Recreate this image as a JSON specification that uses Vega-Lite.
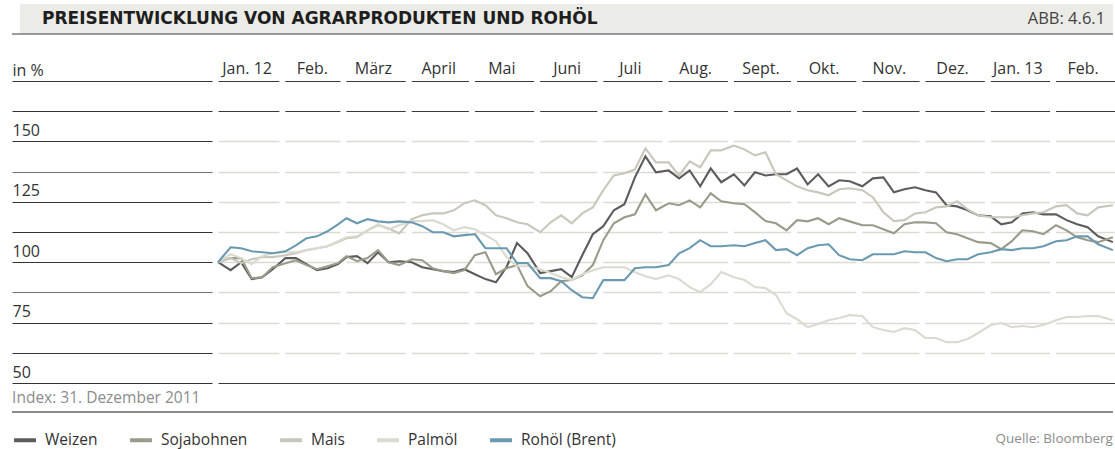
{
  "$schema": "https://vega.github.io/schema/vega-lite/v6.json",
  "width": 897,
  "height": 302,
  "autosize": "none",
  "padding": {"left": 218, "top": 81, "right": 0, "bottom": 66},
  "background": "white",
  "config": {"view": {"stroke": null}, "font": "Open Sans"},
  "datasets": {
    "months": [
      {"start": "2012-01-01", "label": "Jan. 12"},
      {"start": "2012-02-01", "label": "Feb."},
      {"start": "2012-03-01", "label": "März"},
      {"start": "2012-04-01", "label": "April"},
      {"start": "2012-05-01", "label": "Mai"},
      {"start": "2012-06-01", "label": "Juni"},
      {"start": "2012-07-01", "label": "Juli"},
      {"start": "2012-08-01", "label": "Aug."},
      {"start": "2012-09-01", "label": "Sept."},
      {"start": "2012-10-01", "label": "Okt."},
      {"start": "2012-11-01", "label": "Nov."},
      {"start": "2012-12-01", "label": "Dez."},
      {"start": "2013-01-01", "label": "Jan. 13"},
      {"start": "2013-02-01", "label": "Feb."}
    ],
    "prices": [
      {"Datum": "2011-12-31", "Weizen": 100, "Sojabohnen": 100, "Mais": 100, "Palmöl": 100, "Rohöl (Brent)": 100},
      {"Datum": "2012-01-06", "Weizen": 96.7, "Sojabohnen": 101.7, "Mais": 101.7, "Palmöl": 103.3, "Rohöl (Brent)": 106.2},
      {"Datum": "2012-01-11", "Weizen": 100.0, "Sojabohnen": 101.7, "Mais": 99.6, "Palmöl": 101.7, "Rohöl (Brent)": 105.8},
      {"Datum": "2012-01-16", "Weizen": 93.0, "Sojabohnen": 93.4, "Mais": 101.2, "Palmöl": 99.2, "Rohöl (Brent)": 104.5},
      {"Datum": "2012-01-21", "Weizen": 93.8, "Sojabohnen": 93.8, "Mais": 102.1, "Palmöl": 102.5, "Rohöl (Brent)": 104.1},
      {"Datum": "2012-01-26", "Weizen": 97.1, "Sojabohnen": 97.9, "Mais": 102.1, "Palmöl": 103.7, "Rohöl (Brent)": 103.7},
      {"Datum": "2012-02-01", "Weizen": 101.7, "Sojabohnen": 99.6, "Mais": 102.9, "Palmöl": 104.1, "Rohöl (Brent)": 104.5},
      {"Datum": "2012-02-06", "Weizen": 101.7, "Sojabohnen": 100.8, "Mais": 103.7, "Palmöl": 104.1, "Rohöl (Brent)": 107.0},
      {"Datum": "2012-02-11", "Weizen": 99.2, "Sojabohnen": 98.8, "Mais": 105.0, "Palmöl": 105.0, "Rohöl (Brent)": 109.9},
      {"Datum": "2012-02-16", "Weizen": 96.7, "Sojabohnen": 97.1, "Mais": 105.8, "Palmöl": 105.8, "Rohöl (Brent)": 110.7},
      {"Datum": "2012-02-21", "Weizen": 97.5, "Sojabohnen": 98.3, "Mais": 106.6, "Palmöl": 106.6, "Rohöl (Brent)": 112.8},
      {"Datum": "2012-02-26", "Weizen": 99.2, "Sojabohnen": 99.6, "Mais": 108.3, "Palmöl": 108.7, "Rohöl (Brent)": 115.7},
      {"Datum": "2012-03-01", "Weizen": 102.1, "Sojabohnen": 102.5, "Mais": 109.9, "Palmöl": 110.3, "Rohöl (Brent)": 118.2},
      {"Datum": "2012-03-06", "Weizen": 102.5, "Sojabohnen": 100.4, "Mais": 110.3, "Palmöl": 110.7, "Rohöl (Brent)": 116.1},
      {"Datum": "2012-03-11", "Weizen": 99.6, "Sojabohnen": 101.7, "Mais": 113.2, "Palmöl": 113.2, "Rohöl (Brent)": 117.8},
      {"Datum": "2012-03-16", "Weizen": 104.1, "Sojabohnen": 105.0, "Mais": 115.3, "Palmöl": 115.7, "Rohöl (Brent)": 116.9},
      {"Datum": "2012-03-21", "Weizen": 100.0, "Sojabohnen": 100.0, "Mais": 114.0, "Palmöl": 113.6, "Rohöl (Brent)": 116.5},
      {"Datum": "2012-03-26", "Weizen": 100.4, "Sojabohnen": 98.8, "Mais": 111.9, "Palmöl": 115.3, "Rohöl (Brent)": 116.9},
      {"Datum": "2012-04-01", "Weizen": 100.0, "Sojabohnen": 101.2, "Mais": 117.8, "Palmöl": 117.0, "Rohöl (Brent)": 116.5},
      {"Datum": "2012-04-06", "Weizen": 97.9, "Sojabohnen": 100.8, "Mais": 119.4, "Palmöl": 117.0, "Rohöl (Brent)": 114.9},
      {"Datum": "2012-04-11", "Weizen": 97.1, "Sojabohnen": 97.5, "Mais": 120.2, "Palmöl": 117.4, "Rohöl (Brent)": 112.4},
      {"Datum": "2012-04-16", "Weizen": 96.3, "Sojabohnen": 96.3, "Mais": 120.2, "Palmöl": 115.7, "Rohöl (Brent)": 112.4},
      {"Datum": "2012-04-21", "Weizen": 95.9, "Sojabohnen": 95.5, "Mais": 121.5, "Palmöl": 113.2, "Rohöl (Brent)": 110.7},
      {"Datum": "2012-04-26", "Weizen": 97.1, "Sojabohnen": 96.7, "Mais": 124.4, "Palmöl": 114.5, "Rohöl (Brent)": 111.2},
      {"Datum": "2012-05-01", "Weizen": 95.0, "Sojabohnen": 102.9, "Mais": 125.6, "Palmöl": 113.6, "Rohöl (Brent)": 111.6},
      {"Datum": "2012-05-06", "Weizen": 93.0, "Sojabohnen": 104.1, "Mais": 123.6, "Palmöl": 111.2, "Rohöl (Brent)": 105.8},
      {"Datum": "2012-05-11", "Weizen": 91.7, "Sojabohnen": 95.0, "Mais": 119.4, "Palmöl": 108.7, "Rohöl (Brent)": 105.8},
      {"Datum": "2012-05-16", "Weizen": 97.9, "Sojabohnen": 97.5, "Mais": 118.2, "Palmöl": 102.1, "Rohöl (Brent)": 105.8},
      {"Datum": "2012-05-21", "Weizen": 107.9, "Sojabohnen": 98.8, "Mais": 116.5, "Palmöl": 98.3, "Rohöl (Brent)": 99.6},
      {"Datum": "2012-05-26", "Weizen": 103.7, "Sojabohnen": 90.1, "Mais": 115.7, "Palmöl": 98.3, "Rohöl (Brent)": 99.6},
      {"Datum": "2012-06-01", "Weizen": 95.5, "Sojabohnen": 85.9, "Mais": 112.4, "Palmöl": 97.1, "Rohöl (Brent)": 93.4},
      {"Datum": "2012-06-06", "Weizen": 96.3, "Sojabohnen": 88.0, "Mais": 116.5, "Palmöl": 95.5, "Rohöl (Brent)": 93.4},
      {"Datum": "2012-06-11", "Weizen": 97.1, "Sojabohnen": 92.1, "Mais": 119.4, "Palmöl": 93.8, "Rohöl (Brent)": 92.1},
      {"Datum": "2012-06-16", "Weizen": 93.8, "Sojabohnen": 92.6, "Mais": 116.1, "Palmöl": 92.6, "Rohöl (Brent)": 88.4},
      {"Datum": "2012-06-21", "Weizen": 102.9, "Sojabohnen": 94.6, "Mais": 120.2, "Palmöl": 95.0, "Rohöl (Brent)": 85.5},
      {"Datum": "2012-06-26", "Weizen": 111.6, "Sojabohnen": 98.8, "Mais": 122.7, "Palmöl": 96.7, "Rohöl (Brent)": 85.1},
      {"Datum": "2012-07-01", "Weizen": 114.9, "Sojabohnen": 109.1, "Mais": 129.8, "Palmöl": 97.9, "Rohöl (Brent)": 92.6},
      {"Datum": "2012-07-06", "Weizen": 121.5, "Sojabohnen": 116.1, "Mais": 135.9, "Palmöl": 97.9, "Rohöl (Brent)": 92.6},
      {"Datum": "2012-07-11", "Weizen": 124.0, "Sojabohnen": 118.6, "Mais": 136.8, "Palmöl": 97.9, "Rohöl (Brent)": 92.6},
      {"Datum": "2012-07-16", "Weizen": 135.1, "Sojabohnen": 119.8, "Mais": 138.4, "Palmöl": 95.9, "Rohöl (Brent)": 97.5},
      {"Datum": "2012-07-21", "Weizen": 143.8, "Sojabohnen": 128.1, "Mais": 147.1, "Palmöl": 94.2, "Rohöl (Brent)": 97.9},
      {"Datum": "2012-07-26", "Weizen": 137.2, "Sojabohnen": 121.5, "Mais": 141.3, "Palmöl": 93.0, "Rohöl (Brent)": 97.9},
      {"Datum": "2012-08-01", "Weizen": 138.0, "Sojabohnen": 124.4, "Mais": 141.3, "Palmöl": 94.6, "Rohöl (Brent)": 98.8},
      {"Datum": "2012-08-06", "Weizen": 134.7, "Sojabohnen": 123.6, "Mais": 135.9, "Palmöl": 93.0, "Rohöl (Brent)": 103.7},
      {"Datum": "2012-08-11", "Weizen": 138.0, "Sojabohnen": 125.6, "Mais": 141.7, "Palmöl": 89.7, "Rohöl (Brent)": 105.8},
      {"Datum": "2012-08-16", "Weizen": 131.4, "Sojabohnen": 122.7, "Mais": 139.3, "Palmöl": 87.6, "Rohöl (Brent)": 109.1},
      {"Datum": "2012-08-21", "Weizen": 138.8, "Sojabohnen": 128.5, "Mais": 146.3, "Palmöl": 90.9, "Rohöl (Brent)": 106.6},
      {"Datum": "2012-08-26", "Weizen": 133.1, "Sojabohnen": 125.2, "Mais": 146.3, "Palmöl": 95.9, "Rohöl (Brent)": 106.6},
      {"Datum": "2012-09-01", "Weizen": 136.4, "Sojabohnen": 124.4, "Mais": 148.3, "Palmöl": 93.8, "Rohöl (Brent)": 107.0},
      {"Datum": "2012-09-06", "Weizen": 131.8, "Sojabohnen": 124.0, "Mais": 146.7, "Palmöl": 92.6, "Rohöl (Brent)": 106.6},
      {"Datum": "2012-09-11", "Weizen": 137.2, "Sojabohnen": 120.7, "Mais": 144.2, "Palmöl": 89.7, "Rohöl (Brent)": 107.9},
      {"Datum": "2012-09-16", "Weizen": 135.9, "Sojabohnen": 117.0, "Mais": 145.5, "Palmöl": 89.3, "Rohöl (Brent)": 109.1},
      {"Datum": "2012-09-21", "Weizen": 136.4, "Sojabohnen": 116.1, "Mais": 136.4, "Palmöl": 86.4, "Rohöl (Brent)": 105.0},
      {"Datum": "2012-09-26", "Weizen": 136.4, "Sojabohnen": 113.2, "Mais": 133.9, "Palmöl": 78.9, "Rohöl (Brent)": 105.4},
      {"Datum": "2012-10-01", "Weizen": 138.8, "Sojabohnen": 117.4, "Mais": 131.4, "Palmöl": 76.4, "Rohöl (Brent)": 102.9},
      {"Datum": "2012-10-06", "Weizen": 132.2, "Sojabohnen": 116.9, "Mais": 129.8, "Palmöl": 73.1, "Rohöl (Brent)": 105.8},
      {"Datum": "2012-10-11", "Weizen": 136.4, "Sojabohnen": 118.2, "Mais": 128.9, "Palmöl": 74.4, "Rohöl (Brent)": 107.0},
      {"Datum": "2012-10-16", "Weizen": 131.4, "Sojabohnen": 115.7, "Mais": 127.7, "Palmöl": 76.0, "Rohöl (Brent)": 107.4},
      {"Datum": "2012-10-21", "Weizen": 133.9, "Sojabohnen": 118.2, "Mais": 130.2, "Palmöl": 76.9, "Rohöl (Brent)": 102.9},
      {"Datum": "2012-10-26", "Weizen": 133.5, "Sojabohnen": 116.9, "Mais": 130.6, "Palmöl": 78.1, "Rohöl (Brent)": 101.2},
      {"Datum": "2012-11-01", "Weizen": 131.4, "Sojabohnen": 115.3, "Mais": 129.8, "Palmöl": 77.7, "Rohöl (Brent)": 100.8},
      {"Datum": "2012-11-06", "Weizen": 134.7, "Sojabohnen": 115.3, "Mais": 126.9, "Palmöl": 73.1, "Rohöl (Brent)": 103.3},
      {"Datum": "2012-11-11", "Weizen": 135.1, "Sojabohnen": 113.6, "Mais": 120.7, "Palmöl": 71.9, "Rohöl (Brent)": 103.3},
      {"Datum": "2012-11-16", "Weizen": 128.9, "Sojabohnen": 112.0, "Mais": 117.0, "Palmöl": 71.1, "Rohöl (Brent)": 103.3},
      {"Datum": "2012-11-21", "Weizen": 130.2, "Sojabohnen": 115.7, "Mais": 117.4, "Palmöl": 72.7, "Rohöl (Brent)": 104.5},
      {"Datum": "2012-11-26", "Weizen": 131.0, "Sojabohnen": 116.5, "Mais": 120.2, "Palmöl": 71.9, "Rohöl (Brent)": 104.1},
      {"Datum": "2012-12-01", "Weizen": 129.8, "Sojabohnen": 116.5, "Mais": 120.7, "Palmöl": 68.6, "Rohöl (Brent)": 104.1},
      {"Datum": "2012-12-06", "Weizen": 128.9, "Sojabohnen": 116.1, "Mais": 122.7, "Palmöl": 68.6, "Rohöl (Brent)": 101.7},
      {"Datum": "2012-12-11", "Weizen": 123.6, "Sojabohnen": 112.4, "Mais": 123.1, "Palmöl": 66.9, "Rohöl (Brent)": 100.4},
      {"Datum": "2012-12-16", "Weizen": 123.1, "Sojabohnen": 111.6, "Mais": 125.2, "Palmöl": 66.9, "Rohöl (Brent)": 101.2},
      {"Datum": "2012-12-21", "Weizen": 121.5, "Sojabohnen": 109.9, "Mais": 121.9, "Palmöl": 68.2, "Rohöl (Brent)": 101.2},
      {"Datum": "2012-12-26", "Weizen": 119.4, "Sojabohnen": 108.3, "Mais": 119.4, "Palmöl": 70.7, "Rohöl (Brent)": 103.3},
      {"Datum": "2013-01-01", "Weizen": 119.0, "Sojabohnen": 107.9, "Mais": 118.6, "Palmöl": 74.0, "Rohöl (Brent)": 104.1},
      {"Datum": "2013-01-06", "Weizen": 115.7, "Sojabohnen": 105.4, "Mais": 118.6, "Palmöl": 74.8, "Rohöl (Brent)": 105.4},
      {"Datum": "2013-01-11", "Weizen": 116.5, "Sojabohnen": 108.7, "Mais": 118.6, "Palmöl": 73.1, "Rohöl (Brent)": 105.0},
      {"Datum": "2013-01-16", "Weizen": 120.2, "Sojabohnen": 113.2, "Mais": 119.4, "Palmöl": 73.6, "Rohöl (Brent)": 105.8},
      {"Datum": "2013-01-21", "Weizen": 120.7, "Sojabohnen": 112.8, "Mais": 120.2, "Palmöl": 73.1, "Rohöl (Brent)": 105.8},
      {"Datum": "2013-01-26", "Weizen": 119.8, "Sojabohnen": 111.6, "Mais": 120.7, "Palmöl": 74.0, "Rohöl (Brent)": 106.6},
      {"Datum": "2013-02-01", "Weizen": 119.8, "Sojabohnen": 115.3, "Mais": 123.1, "Palmöl": 76.0, "Rohöl (Brent)": 108.7},
      {"Datum": "2013-02-06", "Weizen": 117.4, "Sojabohnen": 113.2, "Mais": 123.6, "Palmöl": 77.3, "Rohöl (Brent)": 109.1},
      {"Datum": "2013-02-11", "Weizen": 115.7, "Sojabohnen": 110.3, "Mais": 120.2, "Palmöl": 77.3, "Rohöl (Brent)": 110.7},
      {"Datum": "2013-02-16", "Weizen": 114.5, "Sojabohnen": 109.1, "Mais": 119.4, "Palmöl": 77.7, "Rohöl (Brent)": 110.7},
      {"Datum": "2013-02-21", "Weizen": 110.7, "Sojabohnen": 108.3, "Mais": 122.7, "Palmöl": 77.7, "Rohöl (Brent)": 107.4},
      {"Datum": "2013-02-28", "Weizen": 108.3, "Sojabohnen": 110.3, "Mais": 123.6, "Palmöl": 76.0, "Rohöl (Brent)": 105.0}
    ]
  },
  "layer": [
    {
      "data": {"values": [{}]},
      "mark": {"type": "rect", "color": "#ebebe7"},
      "encoding": {
        "x": {"datum": {"year": 2011, "month": 9, "date": 28, "utc": true}, "type": "temporal", "axis": null},
        "x2": {"datum": {"year": 2013, "month": 2, "date": 28, "utc": true}},
        "y": {"datum": 206.9, "type": "quantitative"},
        "y2": {"datum": 194.45}
      }
    },
    {
      "data": {"values": [{}]},
      "mark": {"type": "rule", "color": "#7a7a7a", "strokeWidth": 1.5},
      "encoding": {
        "x": {"datum": {"year": 2011, "month": 9, "date": 24, "hours": 5, "utc": true}, "type": "temporal", "axis": null},
        "x2": {"datum": {"year": 2013, "month": 2, "date": 28, "utc": true}},
        "y": {"datum": 194.45, "type": "quantitative"}
      }
    },
    {
      "data": {"values": [{}]},
      "mark": {"type": "rule", "color": "#8a8a8a", "strokeWidth": 2},
      "encoding": {
        "x": {"datum": {"year": 2011, "month": 9, "date": 24, "hours": 5, "utc": true}, "type": "temporal", "axis": null},
        "x2": {"datum": {"year": 2013, "month": 2, "date": 28, "utc": true}},
        "y": {"datum": 38.0, "type": "quantitative"}
      }
    },
    {
      "data": {"name": "months"},
      "transform": [{"filter": "datum.label != 'Jan. 12'"}],
      "mark": {"type": "rule", "color": "white", "strokeWidth": 6, "xOffset": -3},
      "encoding": {
        "x": {"field": "start", "type": "temporal", "axis": null}
      }
    },
    {
      "data": {"name": "prices"},
      "transform": [
        {"fold": ["Weizen", "Sojabohnen", "Mais", "Palmöl", "Rohöl (Brent)"], "as": ["Rohstoff", "Index"]}
      ],
      "mark": {"type": "line", "strokeWidth": 2.1, "interpolate": "linear"},
      "encoding": {
        "x": {
          "field": "Datum",
          "type": "temporal",
          "axis": null,
          "scale": {"domain": [{"year": 2011, "month": 12, "date": 31, "utc": true}, {"year": 2013, "month": 3, "date": 1, "utc": true}]}
        },
        "y": {
          "field": "Index",
          "type": "quantitative",
          "scale": {"domain": [50, 175], "nice": false, "zero": false},
          "axis": {
            "orient": "left",
            "offset": 6,
            "values": [50, 62.5, 75, 87.5, 100, 112.5, 125, 137.5, 150, 162.5, 175],
            "tickCount": 30,
            "title": null,
            "domain": false,
            "ticks": true,
            "tickSize": 200,
            "tickColor": {"condition": {"test": "datum.value == 137.5 || datum.value == 87.5", "value": "#707070"}, "value": "#333333"},
            "tickWidth": 1.2,
            "grid": true,
            "gridColor": {"condition": {"test": "datum.value == 50 || datum.value >= 162.5", "value": "#3a3a3a"}, "value": "#dcdbd3"},
            "gridWidth": {"condition": {"test": "datum.value == 50 || datum.value >= 162.5", "value": 1.2}, "value": 1.6},
            "labelExpr": "datum.value == 175 ? 'in %' : (datum.value % 25 == 0 ? datum.label : '')",
            "labelAlign": "left",
            "labelBaseline": "alphabetic",
            "labelPadding": 0,
            "labelOffset": -6,
            "labelFontSize": 16,
            "labelFont": "Open Sans",
            "labelColor": "#333333",
            "labelOverlap": false,
            "labelBound": false,
            "labelFlush": false
          }
        },
        "color": {
          "field": "Rohstoff",
          "type": "nominal",
          "scale": {
            "domain": ["Weizen", "Sojabohnen", "Mais", "Palmöl", "Rohöl (Brent)"],
            "range": ["#5c5c5c", "#9b9a8b", "#c7c7bc", "#dadad1", "#6b9ab0"]
          },
          "legend": {
            "orient": "none",
            "legendX": -206,
            "legendY": 346,
            "direction": "horizontal",
            "title": null,
            "symbolType": "stroke",
            "symbolStrokeWidth": 4,
            "symbolSize": 480,
            "labelFontSize": 15.5,
            "labelFont": "Open Sans",
            "labelColor": "#333333",
            "labelOffset": 7,
            "columnPadding": 24
          }
        }
      }
    },
    {
      "data": {"name": "months"},
      "mark": {"type": "text", "align": "center", "baseline": "alphabetic", "dx": 27, "dy": -7, "fontSize": 16, "font": "Open Sans", "color": "#333333"},
      "encoding": {
        "x": {"field": "start", "type": "temporal", "axis": null},
        "y": {"datum": 175, "type": "quantitative"},
        "text": {"field": "label"}
      }
    },
    {
      "data": {"values": [{}]},
      "mark": {"type": "text", "align": "left", "baseline": "alphabetic", "fontSize": 17, "font": "DejaVu Sans", "fontWeight": "bold", "color": "#1e1e1e"},
      "encoding": {
        "x": {"datum": {"year": 2011, "month": 10, "date": 8, "hours": 10, "utc": true}, "type": "temporal", "axis": null},
        "y": {"datum": 198.6, "type": "quantitative"},
        "text": {"value": "PREISENTWICKLUNG VON AGRARPRODUKTEN UND ROHÖL"}
      }
    },
    {
      "data": {"values": [{}]},
      "mark": {"type": "text", "align": "right", "baseline": "alphabetic", "fontSize": 16.5, "font": "Open Sans", "color": "#444444"},
      "encoding": {
        "x": {"datum": {"year": 2013, "month": 2, "date": 24, "hours": 7, "utc": true}, "type": "temporal", "axis": null},
        "y": {"datum": 198.6, "type": "quantitative"},
        "text": {"value": "ABB: 4.6.1"}
      }
    },
    {
      "data": {"values": [{}]},
      "mark": {"type": "text", "align": "left", "baseline": "alphabetic", "fontSize": 15.5, "font": "Open Sans", "color": "#8c8c8c"},
      "encoding": {
        "x": {"datum": {"year": 2011, "month": 9, "date": 24, "hours": 5, "utc": true}, "type": "temporal", "axis": null},
        "y": {"datum": 41.7, "type": "quantitative"},
        "text": {"value": "Index: 31. Dezember 2011"}
      }
    },
    {
      "data": {"values": [{}]},
      "mark": {"type": "text", "align": "right", "baseline": "alphabetic", "fontSize": 13.5, "font": "Open Sans", "color": "#8c8c8c"},
      "encoding": {
        "x": {"datum": {"year": 2013, "month": 2, "date": 28, "utc": true}, "type": "temporal", "axis": null},
        "y": {"datum": 25.2, "type": "quantitative"},
        "text": {"value": "Quelle: Bloomberg"}
      }
    }
  ]
}
